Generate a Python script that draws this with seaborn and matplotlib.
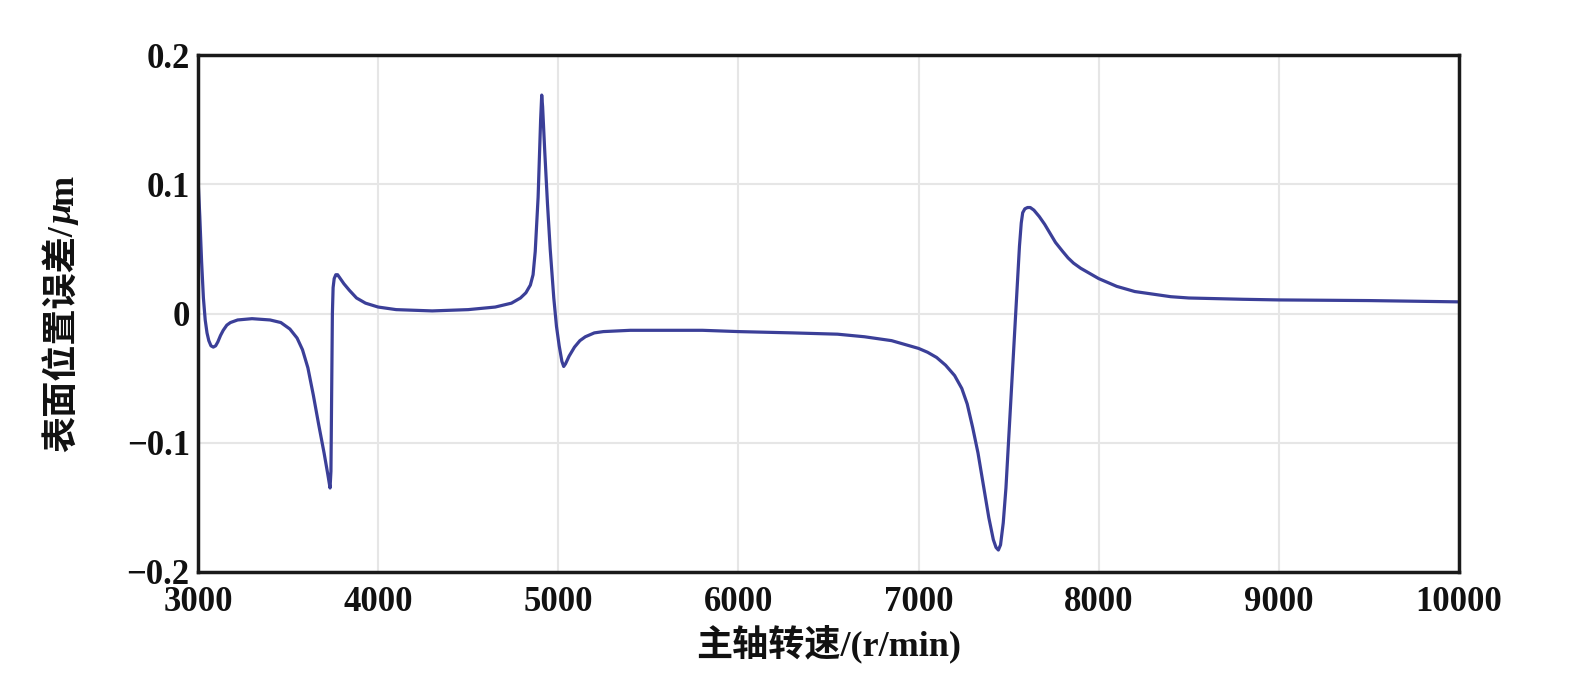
import matplotlib
matplotlib.use("Agg")
import matplotlib.pyplot as plt
import seaborn as sns
import pandas as pd

# Spindle speed (r/min)
speed = [3000, 3010, 3020, 3030, 3040, 3050, 3060, 3072, 3085, 3098, 3110, 3125,
         3140, 3160, 3180, 3220, 3300, 3400, 3460, 3510, 3550, 3580, 3610, 3640,
         3670, 3700, 3720, 3733, 3738, 3742, 3746, 3750, 3756, 3765, 3775, 3790,
         3810, 3840, 3880, 3930, 4000, 4100, 4300, 4500, 4650, 4740, 4790, 4820,
         4845, 4860, 4872, 4888, 4902, 4908, 4913, 4925, 4940, 4955, 4975, 4990,
         5005, 5020, 5030, 5040, 5060, 5090, 5120, 5150, 5200, 5250, 5400, 5600,
         5800, 6000, 6300, 6550, 6700, 6850, 6900, 6950, 7000, 7050, 7100, 7150,
         7200, 7240, 7270, 7300, 7330, 7360, 7390, 7415, 7430, 7443, 7455, 7470,
         7485, 7505, 7525, 7545, 7560, 7570, 7578, 7590, 7605, 7620, 7640, 7670,
         7700, 7730, 7760, 7800, 7830, 7860, 7900, 7950, 8000, 8050, 8100, 8150,
         8200, 8300, 8400, 8500, 8800, 9000, 9500, 10000]
# Surface location error (um)
error = [0.105, 0.075, 0.040, 0.012, -0.005, -0.015, -0.021, -0.025, -0.026, -0.025,
         -0.022, -0.017, -0.013, -0.009, -0.007, -0.005, -0.004, -0.005, -0.007, -0.012,
         -0.019, -0.028, -0.042, -0.063, -0.086, -0.108, -0.124, -0.135, -0.122, -0.060,
         0.000, 0.020, 0.027, 0.030, 0.030, 0.027, 0.023, 0.018, 0.012, 0.008,
         0.005, 0.003, 0.002, 0.003, 0.005, 0.008, 0.012, 0.016, 0.022, 0.030,
         0.048, 0.090, 0.150, 0.169, 0.160, 0.125, 0.085, 0.050, 0.012, -0.010,
         -0.025, -0.037, -0.041, -0.039, -0.033, -0.026, -0.021, -0.018, -0.015, -0.014,
         -0.013, -0.013, -0.013, -0.014, -0.015, -0.016, -0.018, -0.021, -0.023, -0.025,
         -0.027, -0.030, -0.034, -0.040, -0.048, -0.058, -0.070, -0.088, -0.108, -0.133,
         -0.158, -0.175, -0.181, -0.183, -0.179, -0.162, -0.135, -0.085, -0.035, 0.015,
         0.052, 0.070, 0.078, 0.081, 0.082, 0.082, 0.080, 0.075, 0.069, 0.062,
         0.055, 0.048, 0.043, 0.039, 0.035, 0.031, 0.027, 0.024, 0.021, 0.019,
         0.017, 0.015, 0.013, 0.012, 0.011, 0.0105, 0.010, 0.009]

x_ticks = [3000, 4000, 5000, 6000, 7000, 8000, 9000, 10000]
x_tick_labels = ["3000", "4000", "5000", "6000", "7000", "8000", "9000", "10000"]
y_ticks = [-0.2, -0.1, 0.0, 0.1, 0.2]
y_tick_labels = ["\u22120.2", "\u22120.1", "0", "0.1", "0.2"]
x_title = "主轴转速/(r/min)"
y_title_parts = ["表面位置误差/", "\u03bc", "m"]

sns.set_theme(style="whitegrid")
plt.rcParams['font.family'] = ['Liberation Serif', 'Noto Sans CJK SC', 'DejaVu Sans']

df = pd.DataFrame({"speed": speed, "error": error})

W, H = 1594, 697
fig = plt.figure(figsize=(W / 100, H / 100), dpi=100)
ax = fig.add_axes([198 / W, 125 / H, (1459 - 198) / W, (572 - 55) / H])

sns.lineplot(data=df, x="speed", y="error", ax=ax, color="#3b3f98",
             linewidth=2.3, estimator=None, sort=False)

ax.set_xlim(3000, 10000)
ax.set_ylim(-0.2, 0.2)
ax.set_xticks(x_ticks)
ax.set_xticklabels(x_tick_labels, fontsize=25, fontweight='bold')
ax.set_yticks(y_ticks)
ax.set_yticklabels(y_tick_labels, fontsize=25, fontweight='bold')

ax.grid(True, color="#e6e6e6", linewidth=1.5)
ax.tick_params(axis='both', direction='in', length=7, width=1.5, color='#888888',
               pad=6, labelcolor='#111111')
ax.tick_params(axis='x', pad=10)
for side, sp in ax.spines.items():
    sp.set_visible(True)
    sp.set_color('#1a1a1a')
    sp.set_linewidth(2.5)
ax.set_facecolor('white')

ax.set_xlabel(x_title, fontsize=26, fontweight='bold', labelpad=4, color='#111111')
ax.set_ylabel("")

# y title built from pieces so that the mu can be italic
styles = [dict(style='normal'), dict(style='italic'), dict(style='normal')]
bx = 73 / W          # baseline x (figure fraction)
by = (H - 452) / H   # start y (figure fraction)
fig.canvas.draw()
renderer = fig.canvas.get_renderer()
for part, st in zip(y_title_parts, styles):
    t = fig.text(bx, by, part, rotation=90, rotation_mode='anchor',
                 ha='left', va='baseline', fontsize=26, fontweight='bold',
                 color='#111111', **st)
    bb = t.get_window_extent(renderer=renderer)
    by += bb.height / H

fig.savefig("out.png", dpi=100, facecolor='white')
